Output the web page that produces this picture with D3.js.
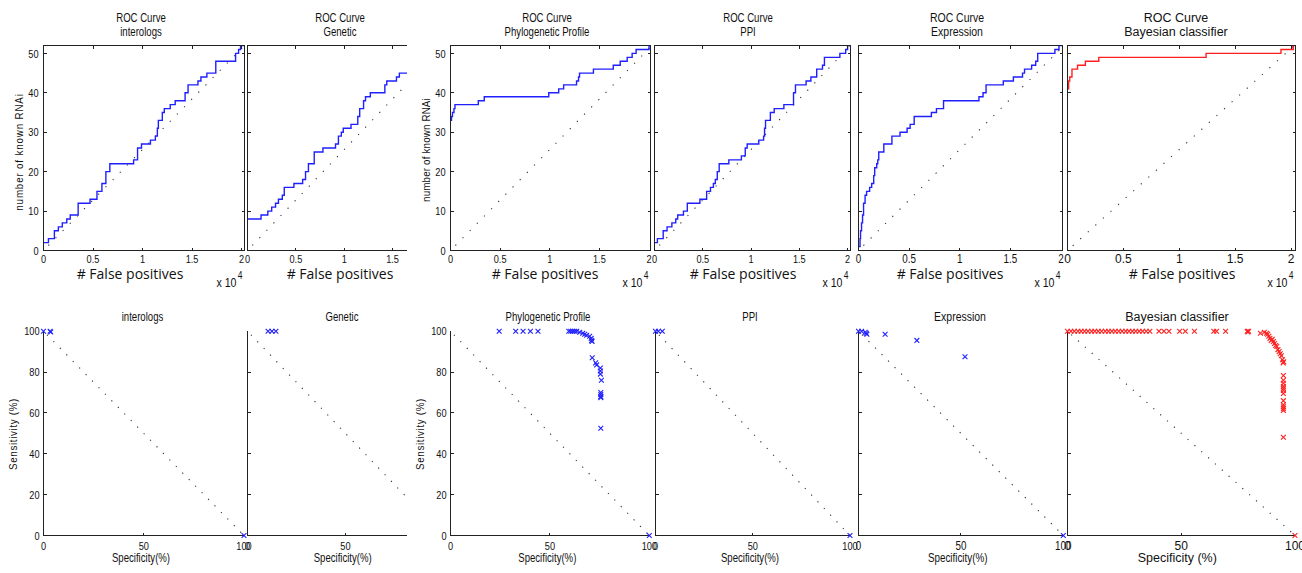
<!DOCTYPE html>
<html>
<head>
<meta charset="utf-8">
<script src="https://cdn.jsdelivr.net/npm/d3@7"></script>
<style>
  body { margin: 0; background: #fff; }
  svg { display: block; }
</style>
</head>
<body>
<svg id="fig" width="1302" height="573"></svg>
<script>
// ---------------------------------------------------------------
// Data
// ROC steps: [false positives (x10^4), number of known RNAi]
// ---------------------------------------------------------------
const rocInterologs = [[0,2],[0.05,3],[0.11,5],[0.15,6],[0.19,7],[0.235,8],[0.27,9],[0.35,12],[0.47,13],[0.54,15],[0.59,17],[0.63,20],[0.67,22],[0.91,23],[0.95,26],[0.99,27],[1.08,28],[1.13,29],[1.15,31],[1.16,33],[1.2,35],[1.22,36],[1.28,37],[1.33,38],[1.43,40],[1.46,42],[1.56,43],[1.59,44],[1.65,45],[1.74,48],[1.94,50],[1.97,51],[1.99,52],[2.04,52]];
const rocGenetic = [[0,8],[0.14,9],[0.21,10],[0.25,11],[0.29,12],[0.32,13],[0.36,14],[0.38,16],[0.48,17],[0.57,18],[0.6,20],[0.63,22],[0.69,25],[0.78,26],[0.91,27],[0.94,29],[0.97,30],[0.99,31],[1.07,32],[1.14,34],[1.16,36],[1.2,38],[1.22,39],[1.27,40],[1.42,42],[1.44,43],[1.54,44],[1.57,45],[1.7,45]];
const rocPhylo = [[0,33],[0.01,34],[0.02,35],[0.035,36],[0.045,37],[0.28,38],[0.34,39],[0.99,40],[1.09,41],[1.14,42],[1.27,43],[1.29,44],[1.3,45],[1.44,46],[1.64,47],[1.71,48],[1.78,49],[1.83,50],[1.87,51],[2.0,52],[2.04,52]];
const rocPPI = [[0,2],[0.03,3],[0.09,5],[0.13,6],[0.18,7],[0.22,8],[0.24,9],[0.3,10],[0.34,12],[0.47,13],[0.54,15],[0.58,16],[0.61,17],[0.63,18],[0.65,20],[0.67,22],[0.77,23],[0.9,24],[0.94,26],[0.96,27],[1.08,28],[1.13,29],[1.14,31],[1.15,33],[1.2,35],[1.24,36],[1.34,37],[1.44,40],[1.46,42],[1.57,43],[1.62,44],[1.68,46],[1.74,47],[1.76,49],[1.92,50],[1.98,51],[2.0,52],[2.04,52]];
const rocExpression = [[0,1],[0.015,3],[0.02,5],[0.03,7],[0.04,9],[0.05,12],[0.065,14],[0.08,15],[0.11,16],[0.13,17],[0.15,19],[0.16,21],[0.18,22],[0.19,23],[0.2,25],[0.25,27],[0.33,29],[0.41,30],[0.48,31],[0.51,32],[0.55,34],[0.72,35],[0.77,36],[0.84,38],[1.19,39],[1.23,40],[1.26,42],[1.43,43],[1.53,44],[1.62,45],[1.64,46],[1.71,47],[1.75,48],[1.77,50],[1.94,51],[1.98,52],[2.04,52]];
const rocBayesian = [[0,41],[0.01,43],[0.02,44],[0.04,46],[0.09,47],[0.16,48],[0.28,49],[1.24,50],[1.91,51],[2.02,52],[2.04,52]];

// chance lines
const rocChance = [[0,0],[2.03,52]];
const pointChance = [[0,100],[100,0]];

// operating points: [specificity %, sensitivity %]
const ptsInterologs = [[0,100],[3.3,100],[3.6,99.6],[100,0]];
const ptsGenetic = [[10.5,100],[12.5,100],[14.5,100]];
const ptsPhylo = [[24.5,100],[32.8,100],[36.5,100],[40.2,100],[44,100],[59.5,100],[60.5,100],[61.5,100],[62.5,100],[63.5,100],[65,99.5],[66.5,99],[67.5,98.5],[68.5,98],[70,97.5],[70.8,96.5],[71,95.5],[71.2,95],[71.3,87],[73,84.5],[73.5,83.5],[75.4,82],[75.4,80.5],[75.4,79],[75.9,76],[75.6,70],[75.6,69],[75.6,68],[75.6,67.5],[75.6,52.5],[100,0]];
const ptsPPI = [[0,100],[1.5,100],[3.5,100],[100,0]];
const ptsExpression = [[0,100],[1.5,100],[3.3,99.5],[3.8,99],[4.1,98.5],[13,98.5],[28.5,95.5],[52,87.5],[100,0]];
const ptsBayesian = [[0,100],[1.5,100],[3,100],[4.6,100],[6,100],[7.5,100],[9,100],[10.6,100],[12,100],[13.5,100],[15,100],[16.6,100],[18,100],[19.5,100],[21,100],[22.5,100],[24,100],[25.6,100],[27,100],[28.5,100],[30,100],[31.5,100],[33,100],[34.6,100],[36.2,100],[40.2,100],[42.4,100],[44.6,100],[49.3,100],[51.8,100],[55.8,100],[64.3,100],[65.5,100],[69.5,100],[79,100],[79.3,99.6],[79.6,100],[84.8,99],[86.5,99.5],[87.5,99],[88,98.5],[88.5,97.5],[89,96.5],[89.5,95.5],[90,96],[90.5,95],[91,94],[91.5,93],[92,92.5],[92.5,91],[93,90],[93.5,89],[94,88],[94.5,86],[95,85],[94.8,84.5],[94.9,78.3],[94.9,76],[94.9,74.5],[94.9,73],[94.9,72],[94.9,71],[94.9,69.5],[94.9,66],[94.9,64],[94.9,63],[94.9,62],[94.9,61.2],[94.9,48.1],[100,0]];

const sourceNames = ["interologs","Genetic","Phylogenetic Profile","PPI","Expression","Bayesian classifier"];
const fpTickValues = [0,0.5,1,1.5,2];
const rnaiTickValues = [0,10,20,30,40,50];
const sensTickValues = [0,20,40,60,80,100];
const specTickValues = [0,50,100];

const rocSeries = [rocInterologs, rocGenetic, rocPhylo, rocPPI, rocExpression, rocBayesian];
const pointSeries = [ptsInterologs, ptsGenetic, ptsPhylo, ptsPPI, ptsExpression, ptsBayesian];

// ---------------------------------------------------------------
// Layout
// ---------------------------------------------------------------
const SANS = "'Liberation Sans',Arial,sans-serif";
const LABEL = "'Open Sans','Noto Sans',sans-serif";
const BLUE = "#1f1fff", RED = "#ff1f1f";

const topBox = { top: 45.5, bottom: 250.5, ymax: 52 };
const botBox = { top: 331.2, bottom: 535.5, ymax: 100 };

// squeeze = horizontal glyph scale (condensed lettering in most panels)
const panels = [
  { left: 43.5, right: 244.5, xmax: 2.03, cut: null, bl: 43.5, br: 244, titleX: 141, subTitleX: 142.5, fpX: 130, specX: 141,
    yAxisLabels: true, multiplier: true, squeeze: 0.8, tick: 11.5, title: 12, color: BLUE },
  { left: 247.5, right: 410, xmax: 1.68, cut: 407, bl: 247.5, br: 443.3, titleX: 340, subTitleX: 342, fpX: 340, specX: 342.7,
    yAxisLabels: false, multiplier: false, squeeze: 0.8, tick: 11.5, title: 12, color: BLUE },
  { left: 450.5, right: 650.5, xmax: 2.015, cut: null, bl: 450.5, br: 649.3, titleX: 547, subTitleX: 548, fpX: 545, specX: 547.3,
    yAxisLabels: true, multiplier: true, squeeze: 0.8, tick: 11.5, title: 12, color: BLUE },
  { left: 654.5, right: 850.5, xmax: 2.03, cut: null, bl: 655.5, br: 850, titleX: 748, subTitleX: 750, fpX: 743, specX: 750,
    yAxisLabels: false, multiplier: true, squeeze: 0.8, tick: 11.5, title: 12, color: BLUE },
  { left: 858.5, right: 1062.5, xmax: 2.015, cut: null, bl: 858.5, br: 1063.3, titleX: 957, subTitleX: 960, fpX: 950, specX: 957.7,
    yAxisLabels: false, multiplier: true, squeeze: 0.82, tick: 12, title: 12.8, color: BLUE },
  { left: 1067.5, right: 1295.5, xmax: 2.04, cut: null, bl: 1067.5, br: 1295, titleX: 1176, subTitleX: 1177, fpX: 1182, specX: 1177.3,
    yAxisLabels: false, multiplier: true, squeeze: 1, tick: 12, title: 12.5, color: RED }
];

const svg = d3.select("#fig");
svg.append("rect").attr("width", 1302).attr("height", 573).attr("fill", "#fff");
const defs = svg.append("defs");

// text helper: places a label at (x, y), optionally rotated, with horizontal squeeze
function label(parent, x, y, str, o) {
  const rot = o.rotate ? ` rotate(${o.rotate})` : "";
  return parent.append("text")
    .attr("transform", `translate(${x},${y})${rot} scale(${o.squeeze || 1},1)`)
    .attr("text-anchor", o.anchor || "middle")
    .attr("dy", o.dy || null)
    .style("font-family", o.family || SANS)
    .style("font-size", o.size + "px")
    .style("letter-spacing", o.spacing || null)
    .attr("fill", "#111")
    .text(str);
}

const crossPath = "M-2.4,-2.4L2.4,2.4M-2.4,2.4L2.4,-2.4";

panels.forEach((p, i) => {
  let clipId = null;
  if (p.cut !== null) {
    clipId = "cut" + i;
    defs.append("clipPath").attr("id", clipId)
      .append("rect").attr("x", 0).attr("y", 0).attr("width", p.cut).attr("height", 573);
  }

  // ================= ROC curve (top) =================
  const gt = svg.append("g");
  if (clipId) gt.attr("clip-path", `url(#${clipId})`);
  const x = d3.scaleLinear().domain([0, p.xmax]).range([p.left, p.right]);
  const y = d3.scaleLinear().domain([0, topBox.ymax]).range([topBox.bottom, topBox.top]);

  const plotClipId = "plot" + i;
  defs.append("clipPath").attr("id", plotClipId)
    .append("rect").attr("x", p.left).attr("y", topBox.top)
    .attr("width", p.right - p.left).attr("height", topBox.bottom - topBox.top);

  const plot = gt.append("g").attr("clip-path", `url(#${plotClipId})`);

  plot.append("path")
    .attr("d", d3.line().x(d => x(d[0])).y(d => y(d[1]))(rocChance))
    .attr("fill", "none").attr("stroke", "#333").attr("stroke-width", 1.1)
    .attr("stroke-dasharray", "1.2 9").attr("stroke-dashoffset", -7);

  plot.append("path")
    .attr("d", d3.line().curve(d3.curveStepAfter).x(d => x(d[0])).y(d => y(d[1]))(rocSeries[i]))
    .attr("fill", "none").attr("stroke", p.color).attr("stroke-width", 1.4);

  gt.append("rect").attr("x", p.left).attr("y", topBox.top)
    .attr("width", p.right - p.left).attr("height", topBox.bottom - topBox.top)
    .attr("fill", "none").attr("stroke", "#222").attr("stroke-width", 1)
    .attr("shape-rendering", "crispEdges");

  const xt = fpTickValues.filter(v => v > 0 && v < p.xmax - 0.02);
  const yt = rnaiTickValues.filter(v => v > 0 && v < topBox.ymax);
  const tk = gt.append("g").attr("stroke", "#222").attr("stroke-width", 1).attr("shape-rendering", "crispEdges");
  xt.forEach(v => {
    tk.append("line").attr("x1", x(v)).attr("x2", x(v)).attr("y1", topBox.bottom).attr("y2", topBox.bottom - 3);
    tk.append("line").attr("x1", x(v)).attr("x2", x(v)).attr("y1", topBox.top).attr("y2", topBox.top + 3);
  });
  yt.forEach(v => {
    tk.append("line").attr("x1", p.left).attr("x2", p.left + 3).attr("y1", y(v)).attr("y2", y(v));
    tk.append("line").attr("x1", p.right).attr("x2", p.right - 3).attr("y1", y(v)).attr("y2", y(v));
  });

  fpTickValues.filter(v => v <= p.xmax + 0.001).forEach(v => {
    label(gt, x(v), 262.5, d3.format("~g")(v), { size: p.tick, squeeze: p.squeeze });
  });

  if (p.yAxisLabels) {
    rnaiTickValues.forEach(v => {
      label(gt, p.left - 5, y(v), v, { size: p.tick, squeeze: p.squeeze, anchor: "end", dy: "0.36em" });
    });
    label(gt, p.left - 21, i === 0 ? 152 : 150, "number of known  RNAi",
      { size: 11.5, squeeze: 0.85, rotate: -90, spacing: i === 0 ? "1px" : "0.2px" });
  }

  label(svg, p.titleX, 22, "ROC Curve", { size: p.title, squeeze: p.squeeze });
  label(svg, p.titleX, 35.5, sourceNames[i], { size: p.title, squeeze: p.squeeze });

  label(svg, p.fpX, 279, "# False positives", { size: 14, family: LABEL });

  if (p.multiplier) {
    const m = label(svg, p.right - 2, 286.5, "", { size: 12.5, squeeze: 0.85, anchor: "end" });
    m.append("tspan").text("x 10");
    m.append("tspan").attr("dx", 1.5).attr("dy", -8).style("font-size", "10px").text("4");
  }

  // ================= operating points (bottom) =================
  const gb = svg.append("g");
  if (clipId) gb.attr("clip-path", `url(#${clipId})`);
  const bx = d3.scaleLinear().domain([0, 100]).range([p.bl, p.br]);
  const by = d3.scaleLinear().domain([0, botBox.ymax]).range([botBox.bottom, botBox.top]);
  const axisEnd = p.cut !== null ? p.cut : p.br;

  gb.append("path")
    .attr("d", d3.line().x(d => bx(d[0])).y(d => by(d[1]))(pointChance))
    .attr("fill", "none").attr("stroke", "#333").attr("stroke-width", 1.1)
    .attr("stroke-dasharray", "1.2 8").attr("stroke-dashoffset", -5);

  const ax = gb.append("g").attr("stroke", "#222").attr("stroke-width", 1).attr("shape-rendering", "crispEdges");
  ax.append("line").attr("x1", p.bl).attr("x2", p.bl).attr("y1", botBox.top).attr("y2", botBox.bottom);
  ax.append("line").attr("x1", p.bl).attr("x2", axisEnd).attr("y1", botBox.bottom).attr("y2", botBox.bottom);
  sensTickValues.filter(v => v > 0 && v < 100).forEach(v => {
    ax.append("line").attr("x1", p.bl).attr("x2", p.bl + 3).attr("y1", by(v)).attr("y2", by(v));
  });
  specTickValues.filter(v => v > 0 && v < 100 && bx(v) < axisEnd).forEach(v => {
    ax.append("line").attr("x1", bx(v)).attr("x2", bx(v)).attr("y1", botBox.bottom).attr("y2", botBox.bottom - 3);
  });

  gb.append("g").selectAll("path").data(pointSeries[i]).join("path")
    .attr("d", crossPath)
    .attr("transform", d => `translate(${bx(d[0])},${by(d[1])})`)
    .attr("fill", "none").attr("stroke", p.color).attr("stroke-width", 1.1);

  specTickValues.filter(v => bx(v) <= axisEnd + 2).forEach(v => {
    label(gb, bx(v), 549.5, v, { size: p.tick, squeeze: p.squeeze });
  });

  if (p.yAxisLabels) {
    sensTickValues.forEach(v => {
      label(gb, p.bl - 4, by(v), v, { size: p.tick, squeeze: p.squeeze, anchor: "end", dy: "0.36em" });
    });
    label(gb, p.bl - 27, 434, "Sensitivity (%)", { size: 11.5, squeeze: 0.85, rotate: -90, spacing: "0.8px" });
  }

  label(svg, p.subTitleX, 321, sourceNames[i], { size: p.title, squeeze: p.squeeze });
  label(svg, p.specX, 561.5, p.squeeze < 1 ? "Specificity(%)" : "Specificity (%)",
    { size: p.squeeze < 1 ? 12 : 12.5, squeeze: p.squeeze });
});
</script>
</body>
</html>
